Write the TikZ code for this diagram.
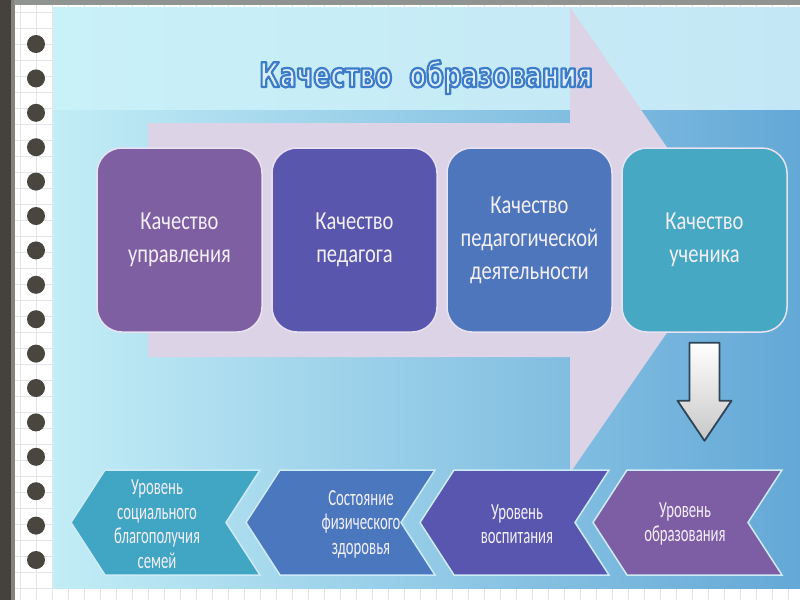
\documentclass[tikz,border=0pt]{standalone}
\usepackage{fontspec}
\usetikzlibrary{calc}
\newfontfamily\boxfont[FakeStretch=0.79]{Carlito}
\newfontfamily\chevfont[FakeStretch=0.64]{Carlito}
\newfontfamily\titlefont[FakeStretch=0.73]{DejaVu Sans Bold}
\definecolor{framec}{HTML}{45423C}
\definecolor{frameh}{HTML}{85827A}
\definecolor{topband}{HTML}{8F9491}
\definecolor{gridc}{HTML}{E3E6E8}
\definecolor{dotc}{HTML}{48463F}
\definecolor{bgtopl}{HTML}{C9F1F8}
\definecolor{bgtopr}{HTML}{C4E7F5}
\definecolor{bgl}{HTML}{C2EDF6}
\definecolor{bgm}{HTML}{98D2EE}
\definecolor{bgr}{HTML}{64A8D7}
\definecolor{lav}{HTML}{DCD4E6}
\definecolor{qa}{HTML}{7D5FA2}
\definecolor{qb}{HTML}{5857AD}
\definecolor{qc}{HTML}{4E76BD}
\definecolor{qd}{HTML}{46A8C3}
\definecolor{ca}{HTML}{41A5C4}
\definecolor{cb}{HTML}{4B77BE}
\definecolor{cc}{HTML}{5856AE}
\definecolor{cd}{HTML}{7D5EA4}
\definecolor{txtc}{HTML}{F3EFF8}
\definecolor{qborder}{HTML}{E8E2F2}
\definecolor{cborder}{HTML}{CDEBF6}
\definecolor{titlefill}{HTML}{DEEEFA}
\definecolor{arrline}{HTML}{2F4456}
\begin{document}
\begin{tikzpicture}[x=1pt,y=-1pt,
  qbox/.style={draw=qborder, line width=1.5pt, rounded corners=25pt,
    minimum width=165pt, minimum height=184pt, inner sep=0pt,
    align=center, text=txtc, font=\boxfont\fontsize{26}{33}\selectfont},
  chevpath/.style={draw=cborder, line width=1.5pt},
  chevtext/.style={align=center, text=txtc, inner sep=0pt,
    font=\chevfont\fontsize{23}{24.5}\selectfont},
  gridline/.style={draw=gridc, line width=0.6pt}]
\useasboundingbox (0,0) rectangle (800,600);
% paper
\fill[white] (0,0) rectangle (800,600);
\foreach \x in {20,36,...,800} \draw[gridline] (\x,0) -- (\x,600);
\foreach \y in {12,28,...,600} \draw[gridline] (14,\y) -- (800,\y);
% frame
\fill[framec] (0,0) rectangle (14,600);
\fill[frameh] (11,0) rectangle (15,600);
\fill[topband] (14,0) rectangle (800,5);
% slide background
\shade[left color=bgtopl, right color=bgtopr] (53,7) rectangle (800,110);
\shade[left color=bgl, middle color=bgm, right color=bgr] (53,110) rectangle (800,588);
% big lavender arrow
\fill[lav] (148,123) -- (570,123) -- (570,7) -- (731,240) -- (570,473) -- (570,357) -- (148,357) -- cycle;
% spiral dots
\foreach \i in {0,...,15} \fill[dotc] (36,{44+34.4*\i}) circle[radius=9pt];
% title (outlined text)
\node[anchor=base, inner sep=0pt, text=titlefill] (title) at (426,87)
  {\titlefont\fontsize{34}{40}\selectfont\special{pdf:literal direct 2 Tr 2.2 w 1 j 0.239 0.486 0.788 RG}Качество\ \ образования\special{pdf:literal direct 0 Tr}};
% top boxes
\node[qbox, fill=qa] (q1) at (179.5,240) {Качество\\управления};
\node[qbox, fill=qb] (q2) at (354.5,240) {Качество\\педагога};
\node[qbox, fill=qc] (q3) at (529.5,240) {Качество\\педагогической\\деятельности};
\node[qbox, fill=qd] (q4) at (704.5,240) {Качество\\ученика};
% chevrons
\fill[ca] (105,470) -- (260,470) -- (226,522.5) -- (260,575) -- (105,575) -- (71,522.5) -- cycle;
\draw[chevpath] (105,470) -- (260,470) -- (226,522.5) -- (260,575) -- (105,575) -- (71,522.5) -- cycle;
\fill[cb] (280,470) -- (435,470) -- (401,522.5) -- (435,575) -- (280,575) -- (246,522.5) -- cycle;
\draw[chevpath] (280,470) -- (435,470) -- (401,522.5) -- (435,575) -- (280,575) -- (246,522.5) -- cycle;
\fill[cc] (454,470) -- (609,470) -- (575,522.5) -- (609,575) -- (454,575) -- (420,522.5) -- cycle;
\draw[chevpath] (454,470) -- (609,470) -- (575,522.5) -- (609,575) -- (454,575) -- (420,522.5) -- cycle;
\fill[cd] (627,470) -- (782,470) -- (748,522.5) -- (782,575) -- (627,575) -- (593,522.5) -- cycle;
\draw[chevpath] (627,470) -- (782,470) -- (748,522.5) -- (782,575) -- (627,575) -- (593,522.5) -- cycle;
\node[chevtext] (c1) at (157,524) {Уровень\\социального\\благополучия\\семей};
\node[chevtext] (c2) at (361,524) {Состояние\\физического\\здоровья};
\node[chevtext] (c3) at (517,524) {Уровень\\воспитания};
\node[chevtext] (c4) at (685,524) {Уровень\\образования};
% down block arrow from q4 to c4
\coordinate (as) at ($(q4.south)+(0,10)$);
\shade[top color=white, bottom color=black!22, draw=arrline, line width=1.8pt, line join=round]
  ($(as)+(-15,0)$) -- ($(as)+(15,0)$) -- ($(as)+(15,58)$) -- ($(as)+(27,58)$)
  -- ($(as)+(0,98)$) -- ($(as)+(-27,58)$) -- ($(as)+(-15,58)$) -- cycle;
\end{tikzpicture}
\end{document}
